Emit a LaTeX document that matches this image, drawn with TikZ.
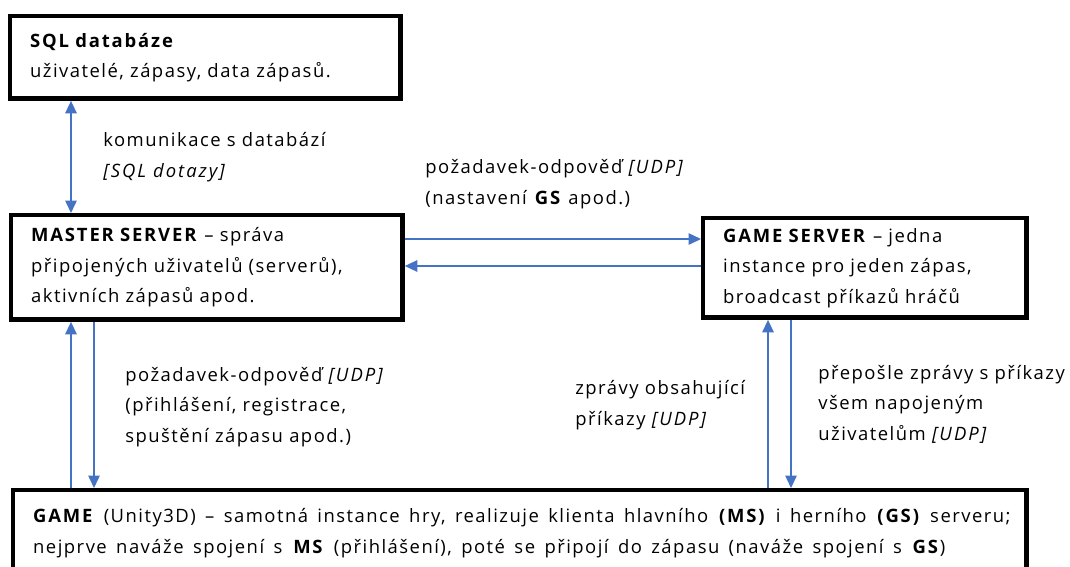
\documentclass[tikz,border=0pt]{standalone}
\usepackage{fontspec}
\setmainfont{Open Sans}[LetterSpace=8,BoldFeatures={LetterSpace=10},ItalicFeatures={LetterSpace=11}]
\usetikzlibrary{arrows.meta,positioning,calc}
\definecolor{linkblue}{HTML}{4472C4}

\begin{document}
\begin{tikzpicture}[x=0.02cm,y=-0.02cm,>={Triangle[length=2.5mm,width=2.3mm]},every node/.style={font=\fontsize{10.5}{17.3}\selectfont},box/.style={draw,line width=2.5pt,anchor=north west,inner xsep=0.4cm,align=left},link/.style={draw=linkblue,line width=0.8pt},note/.style={anchor=west,align=left,inner sep=0pt}]
  \clip (0,0) rectangle (1070,566);
  % boxes
  \node[box,text width=7.01cm,minimum height=1.65cm] (sql) at (8,14) {\textbf{SQL databáze}\\uživatelé, zápasy, data zápasů.};
  \node[box,text width=7.03cm,minimum height=2.09cm] (master) at (9,213) {\textbf{MASTER SERVER} – správa\\připojených uživatelů (serverů),\\aktivních zápasů apod.};
  \node[box,text width=5.67cm,minimum height=1.99cm] (gs) at (701,216) {\textbf{GAME SERVER} – jedna\\instance pro jeden zápas,\\broadcast příkazů hráčů};
  \node[box,text width=19.47cm,minimum height=1.71cm,execute at begin node={\spaceskip=1.5\fontdimen2\font\relax}] (game) at (11,488) {\textbf{GAME} (Unity3D) – samotná instance hry, realizuje klienta hlavního \textbf{(MS)} i herního \textbf{(GS)} serveru;\\nejprve naváže spojení s \textbf{MS} (přihlášení), poté se připojí do zápasu (naváže spojení s \textbf{GS})};
  % labels
  \node[note] (dbnote) at (103,157) {komunikace s databází\\\textit{[SQL dotazy]}};
  \node[note] (gsnote) at (425,184) {požadavek-odpověď \textit{[UDP]}\\(nastavení \textbf{GS} apod.)};
  \node[note] (msnote) at (125,407) {požadavek-odpověď \textit{[UDP]}\\(přihlášení, registrace,\\spuštění zápasu apod.)};
  \node[note] (upnote) at (575,405) {zprávy obsahující\\příkazy \textit{[UDP]}};
  \node[note] (dnnote) at (818,404) {přepošle zprávy s příkazy\\všem napojeným\\uživatelům \textit{[UDP]}};
  % links
  \coordinate (db) at ($(sql.south west)+(63,0)$);
  \draw[link,<->] (db) -- (db |- master.north);
  \coordinate (ms-gs) at ($(master.north east)+(0,26)$);
  \coordinate (gs-ms) at ($(master.north east)+(0,53)$);
  \draw[link,->] (ms-gs) -- (ms-gs -| gs.west);
  \draw[link,->] (gs-ms -| gs.west) -- (gs-ms);
  \coordinate (ms-up) at ($(master.south west)+(62,0)$);
  \coordinate (ms-dn) at ($(master.south west)+(85,0)$);
  \draw[link,->] (ms-up |- game.north) -- (ms-up);
  \draw[link,->] (ms-dn) -- (ms-dn |- game.north);
  \coordinate (gs-up) at ($(gs.south west)+(67,0)$);
  \coordinate (gs-dn) at ($(gs.south west)+(90,0)$);
  \draw[link,->] (gs-up |- game.north) -- (gs-up);
  \draw[link,->] (gs-dn) -- (gs-dn |- game.north);
\end{tikzpicture}
\end{document}
